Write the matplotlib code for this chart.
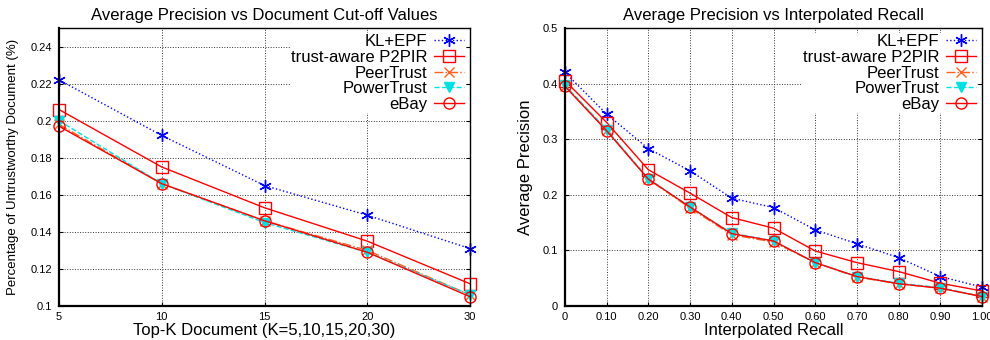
import numpy as np
import matplotlib
matplotlib.use('Agg')
import matplotlib.pyplot as plt

plt.rcParams['font.family'] = ['Liberation Sans', 'DejaVu Sans']

# left panel: top-k cut-off
topk_labels = ['5', '10', '15', '20', '30']
kl_epf_k = [0.222, 0.192, 0.165, 0.149, 0.131]
p2pir_k = [0.206, 0.175, 0.153, 0.135, 0.112]
peertrust_k = [0.198, 0.166, 0.146, 0.130, 0.106]
powertrust_k = [0.200, 0.166, 0.145, 0.129, 0.106]
ebay_k = [0.197, 0.166, 0.146, 0.129, 0.105]

# right panel: interpolated recall
recall = [0.0, 0.1, 0.2, 0.3, 0.4, 0.5, 0.6, 0.7, 0.8, 0.9, 1.0]
recall_labels = ['0', '0.10', '0.20', '0.30', '0.40', '0.50', '0.60', '0.70', '0.80', '0.90', '1.00']
kl_epf_r = [0.420, 0.345, 0.283, 0.243, 0.194, 0.177, 0.137, 0.112, 0.087, 0.053, 0.034]
p2pir_r = [0.405, 0.330, 0.245, 0.203, 0.159, 0.140, 0.099, 0.078, 0.062, 0.041, 0.027]
peertrust_r = [0.396, 0.316, 0.228, 0.176, 0.128, 0.115, 0.078, 0.052, 0.040, 0.032, 0.017]
powertrust_r = [0.397, 0.317, 0.229, 0.178, 0.131, 0.117, 0.078, 0.053, 0.041, 0.033, 0.017]
ebay_r = [0.395, 0.315, 0.228, 0.178, 0.130, 0.117, 0.078, 0.053, 0.040, 0.032, 0.017]

names = ['KL+EPF', 'trust-aware P2PIR', 'PeerTrust', 'PowerTrust', 'eBay']
styles = [
    dict(color='#0000ff', ls=':', marker=(6, 2, 0), ms=9, mew=1.0, lw=1.0),
    dict(color='#ff0000', ls='-', marker='s', ms=8, mfc='none', mew=1.0, lw=1.0),
    dict(color='#ff6020', ls='-.', marker='x', ms=7, mew=1.0, lw=1.0),
    dict(color='#00e0e0', ls='--', marker='v', ms=7, mew=1.0, lw=1.0),
    dict(color='#ff0000', ls='-', marker='o', ms=8, mfc='none', mew=1.0, lw=1.0),
]

fig = plt.figure(figsize=(9.9, 3.4), dpi=100)
ax1 = fig.add_axes([59/990, 1 - 306/340, (470-59)/990, (306-28)/340])
ax2 = fig.add_axes([565/990, 1 - 306/340, (982-565)/990, (306-28)/340])


def style_axes(ax):
    ax.grid(True, color='#333333', ls=':', lw=0.7)
    ax.set_axisbelow(True)
    for s in ['left', 'bottom']:
        ax.spines[s].set_linewidth(1.6)
    for s in ['top', 'right']:
        ax.spines[s].set_linewidth(1.0)
    ax.tick_params(direction='in', length=3, labelsize=8, top=False, right=True)
    ax.tick_params(axis='x', pad=4)
    ax.tick_params(axis='y', pad=5)


def add_legend(ax):
    leg = ax.legend(loc='upper right', markerfirst=False, fontsize=12, frameon=True,
                    fancybox=False, edgecolor='none', facecolor='white', framealpha=1,
                    handlelength=1.8, handletextpad=0.4, labelspacing=0.05,
                    borderpad=0.05, borderaxespad=0.3)
    for t in leg.get_texts():
        t.set_ha('right')
    leg.get_frame().set_linewidth(0)


xk = np.arange(len(topk_labels))
for vals, name, st in zip([kl_epf_k, p2pir_k, peertrust_k, powertrust_k, ebay_k], names, styles):
    ax1.plot(xk, vals, label=name, **st, clip_on=False)
ax1.set_xlim(0, len(topk_labels) - 1)
ax1.set_ylim(0.1, 0.25)
ax1.set_xticks(xk)
ax1.set_xticklabels(topk_labels)
ax1.set_yticks([0.1, 0.12, 0.14, 0.16, 0.18, 0.2, 0.22, 0.24])
ax1.set_yticklabels(['0.1', '0.12', '0.14', '0.16', '0.18', '0.2', '0.22', '0.24'])
style_axes(ax1)
ax1.set_title('Average Precision vs Document Cut-off Values', fontsize=12, pad=6)
ax1.set_xlabel('Top-K Document (K=5,10,15,20,30)', fontsize=12, labelpad=1)
ax1.set_ylabel('Percentage of Untrustworthy Document (%)', fontsize=9.5, labelpad=8)
add_legend(ax1)

for vals, name, st in zip([kl_epf_r, p2pir_r, peertrust_r, powertrust_r, ebay_r], names, styles):
    ax2.plot(recall, vals, label=name, **st, clip_on=False)
ax2.set_xlim(0, 1.0)
ax2.set_ylim(0, 0.5)
ax2.set_xticks(recall)
ax2.set_xticklabels(recall_labels)
ax2.set_yticks([0, 0.1, 0.2, 0.3, 0.4, 0.5])
ax2.set_yticklabels(['0', '0.1', '0.2', '0.3', '0.4', '0.5'])
style_axes(ax2)
ax2.set_title('Average Precision vs Interpolated Recall', fontsize=12, pad=6)
ax2.set_xlabel('Interpolated Recall', fontsize=12, labelpad=1)
ax2.set_ylabel('Average Precision', fontsize=12, labelpad=7)
add_legend(ax2)

fig.savefig('out.png', dpi=100)
